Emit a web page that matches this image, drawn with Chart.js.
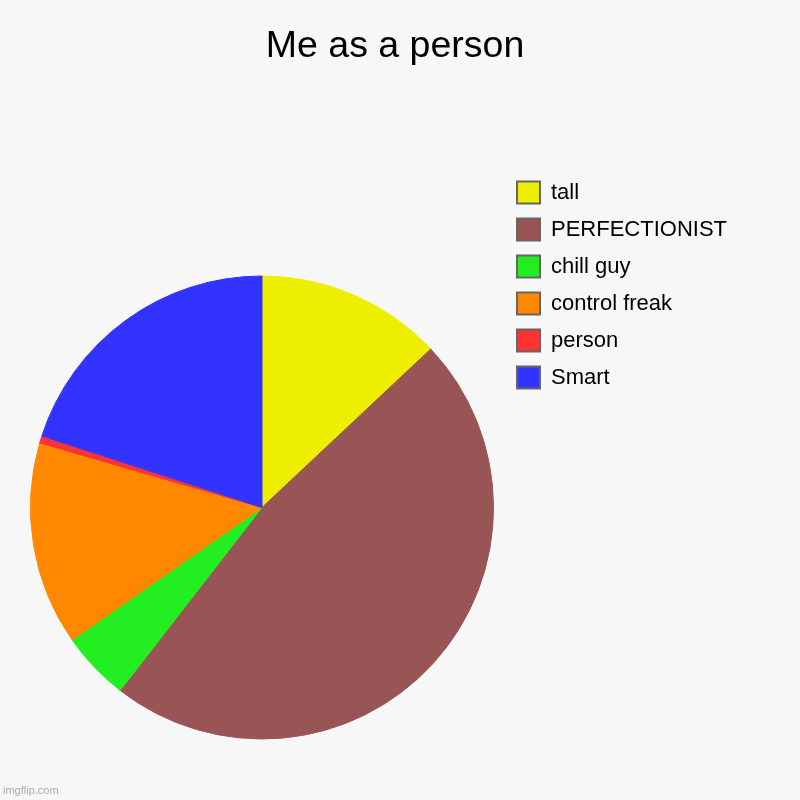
<!DOCTYPE html>
<html>
<head>
<meta charset="utf-8">
<script src="https://cdn.jsdelivr.net/npm/chart.js@4.4.1/dist/chart.umd.min.js"></script>
<style>
  html, body { margin: 0; padding: 0; background: #f7f7f7; }
  #wrap { width: 800px; height: 800px; position: relative; }
</style>
</head>
<body>
<div id="wrap"><canvas id="c"></canvas></div>
<script>
// ---- data ----
const categories = ['tall', 'PERFECTIONIST', 'chill guy', 'control freak', 'person', 'Smart'];
const values = [13, 47.5, 4.8, 14.2, 0.5, 20];
const sliceColors = ['#eeee00', '#995555', '#22ee22', '#ff8800', '#ff3333', '#3333ff'];
const titleText = 'Me as a person';
const watermarkText = 'imgflip.com';

// ---- layout (positions / sizes, not data) ----
const PIE_BOX = { left: 30, top: 275.5, right: 494, bottom: 739.5 };
const LEGEND_POS = { left: 502, top: 166.5 };
const FONT = "'Liberation Sans', Arial, Helvetica, sans-serif";

const placement = {
  id: 'placement',
  afterLayout(chart) {
    chart.chartArea = {
      left: PIE_BOX.left, top: PIE_BOX.top, right: PIE_BOX.right, bottom: PIE_BOX.bottom,
      width: PIE_BOX.right - PIE_BOX.left, height: PIE_BOX.bottom - PIE_BOX.top
    };
    const lg = chart.legend;
    if (lg) {
      const w = lg.right - lg.left;
      lg.left = LEGEND_POS.left;
      lg.right = LEGEND_POS.left + w + 40;
      lg.width = lg.right - lg.left;
      lg.top = LEGEND_POS.top;
      lg.height = lg.bottom - lg.top;
    }
  }
};

new Chart(document.getElementById('c'), {
  type: 'pie',
  data: {
    labels: categories,
    datasets: [{
      data: values,
      backgroundColor: sliceColors,
      borderColor: sliceColors,
      borderWidth: 1
    }]
  },
  options: {
    responsive: true,
    maintainAspectRatio: false,
    animation: false,
    layout: { padding: { left: 3, right: 13, top: 0, bottom: 0 } },
    plugins: {
      title: {
        display: true,
        text: titleText,
        color: '#000000',
        font: { family: FONT, size: 37.5, weight: 'normal' },
        padding: { top: 24, bottom: 10 }
      },
      subtitle: {
        display: true,
        text: watermarkText,
        position: 'bottom',
        align: 'start',
        color: '#ababab',
        font: { family: FONT, size: 11, weight: 'normal' },
        padding: { top: 0, bottom: 2.7 }
      },
      legend: {
        display: true,
        position: 'right',
        align: 'start',
        labels: {
          color: '#000000',
          font: { family: FONT, size: 22 },
          boxWidth: 23,
          boxHeight: 22,
          padding: 15,
          generateLabels(chart) {
            const base = Chart.overrides.pie.plugins.legend.labels.generateLabels(chart);
            return base.map(item => Object.assign(item, { strokeStyle: '#666666', lineWidth: 2 }));
          }
        }
      },
      tooltip: { enabled: false }
    }
  },
  plugins: [placement]
});
</script>
</body>
</html>
